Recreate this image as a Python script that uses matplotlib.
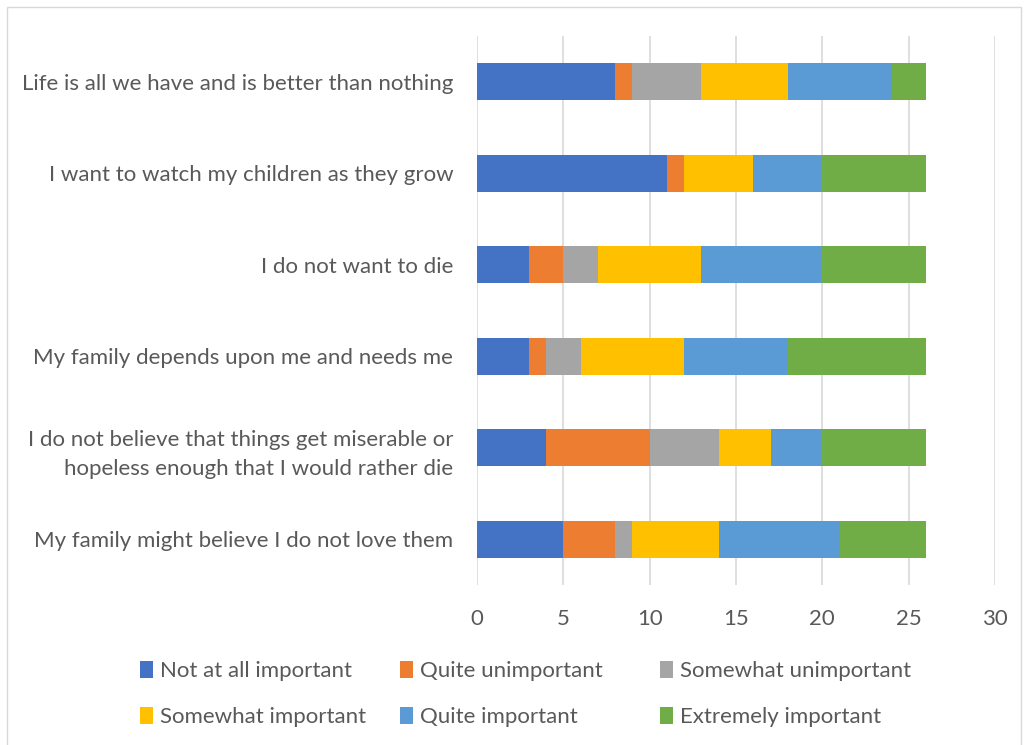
import matplotlib.pyplot as plt
from matplotlib.patches import Patch, Rectangle

# survey reasons (top to bottom as shown)
reasons = [
    "Life is all we have and is better than nothing",
    "I want to watch my children as they grow",
    "I do not want to die",
    "My family depends upon me and needs me",
    "I do not believe that things get miserable or\nhopeless enough that I would rather die",
    "My family might believe I do not love them",
]

levels = ["Not at all important", "Quite unimportant", "Somewhat unimportant",
          "Somewhat important", "Quite important", "Extremely important"]
colors = ["#4472C4", "#ED7D31", "#A5A5A5", "#FFC000", "#5B9BD5", "#70AD47"]

# response counts per level, one value per reason
not_at_all = [8, 11, 3, 3, 4, 5]
quite_unimp = [1, 1, 2, 1, 6, 3]
somewhat_unimp = [4, 0, 2, 2, 4, 1]
somewhat_imp = [5, 4, 6, 6, 3, 5]
quite_imp = [6, 4, 7, 6, 3, 7]
extremely_imp = [2, 6, 6, 8, 6, 5]
series = [not_at_all, quite_unimp, somewhat_unimp, somewhat_imp, quite_imp, extremely_imp]

plt.rcParams['font.family'] = ['Lato', 'DejaVu Sans']
text_color = "#595959"

fig = plt.figure(figsize=(10.24, 7.45), dpi=100)
ax = fig.add_axes([0.4658, 0.2148, 0.5059, 0.7369])

ypos = list(range(len(reasons)))[::-1]
left = [0] * len(reasons)
for vals, lab, col in zip(series, levels, colors):
    ax.barh(ypos, vals, left=left, height=0.4, color=col, label=lab, zorder=3)
    left = [a + b for a, b in zip(left, vals)]

ax.set_xlim(0, 30)
ax.set_ylim(-0.5, len(reasons) - 0.5)
ax.set_xticks(range(0, 31, 5))
ax.set_yticks(ypos)
ax.set_yticklabels(reasons, fontsize=16, color=text_color, linespacing=1.6)
ax.tick_params(axis='y', length=0, pad=17)
ax.tick_params(axis='x', length=0, pad=17, labelsize=16, labelcolor=text_color)
ax.grid(axis='x', color="#D9D9D9", linewidth=1.2, zorder=0)
for s in ax.spines.values():
    s.set_visible(False)

# legend: three equal-width columns, two rows each
for c, xa in enumerate([0.137, 0.391, 0.645]):
    handles = [Patch(facecolor=colors[c], label=levels[c]),
               Patch(facecolor=colors[c + 3], label=levels[c + 3])]
    fig.legend(handles=handles, loc='upper left', bbox_to_anchor=(xa, 0.113),
               frameon=False, fontsize=16, labelcolor=text_color, handlelength=0.55,
               handleheight=0.8, handletextpad=0.35, labelspacing=1.15,
               borderpad=0.0, borderaxespad=0.0)

# thin chart border
fig.add_artist(Rectangle((0.007, -0.01), 0.99, 1.0, transform=fig.transFigure,
                         fill=False, edgecolor="#D9D9D9", linewidth=1))

fig.savefig("out.png", dpi=100)
